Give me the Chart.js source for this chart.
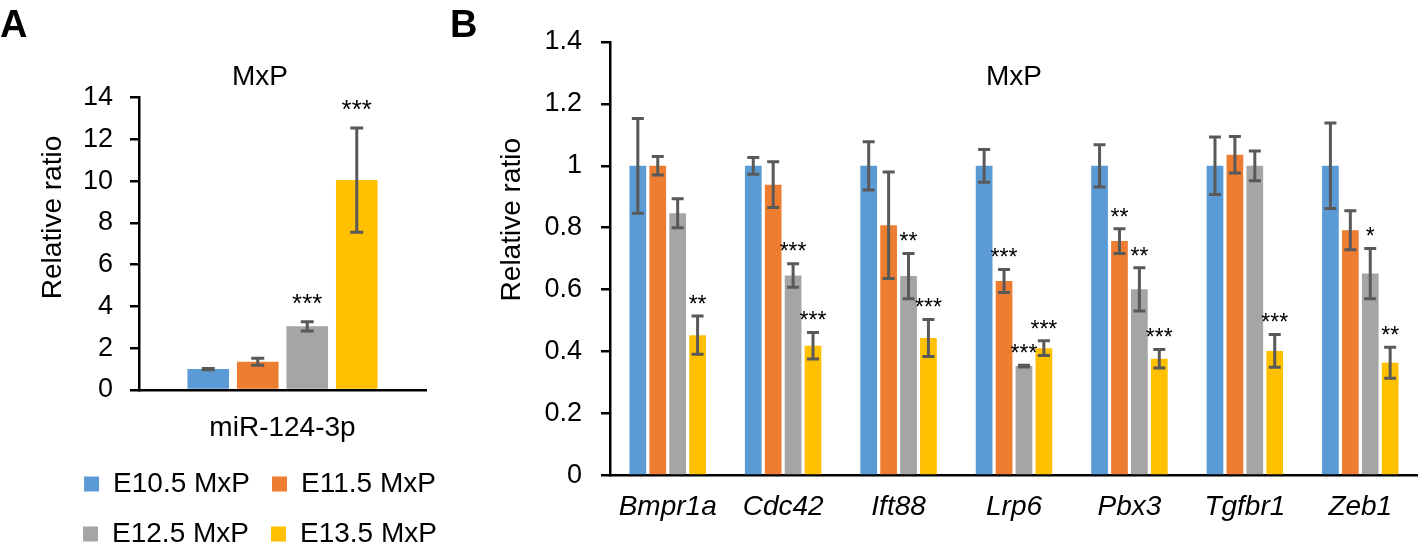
<!DOCTYPE html>
<html>
<head>
<meta charset="utf-8">
<script src="https://cdn.jsdelivr.net/npm/chart.js@4.4.1/dist/chart.umd.min.js"></script>
<style>
  html, body { margin: 0; padding: 0; background: #fff; overflow: hidden; }
  #page { position: relative; width: 1418px; height: 550px; overflow: hidden; }
  .panel-letter { position: absolute; top: 5px; font: bold 38px "Liberation Sans", Arial, sans-serif; line-height: 1; color: #000; }
  #wrapA { position: absolute; left: 0; top: 0; width: 520px; height: 558px; }
  #wrapB { position: absolute; left: 480px; top: 0; width: 938px; height: 550px; }
</style>
</head>
<body>
<div id="page">
  <div id="wrapA"><canvas id="chartA"></canvas></div>
  <div id="wrapB"><canvas id="chartB"></canvas></div>
  <div class="panel-letter" style="left:0px">A</div>
  <div class="panel-letter" style="left:450px">B</div>
</div>
<script>
// series
const seriesNames = ['E10.5 MxP', 'E11.5 MxP', 'E12.5 MxP', 'E13.5 MxP'];
const seriesColors = ['#5B9BD5', '#ED7D31', '#A5A5A5', '#FFC000'];

// panel A - miR-124-3p
const mirLabels = ['miR-124-3p'];
const mirE105 = [1.0];
const mirE115 = [1.35];
const mirE125 = [3.05];
const mirE135 = [10.05];
const mirErrE105 = [0.03];
const mirErrE115 = [0.17];
const mirErrE125 = [0.22];
const mirErrE135 = [2.5];
const mirStarsE105 = [''];
const mirStarsE115 = [''];
const mirStarsE125 = ['***'];
const mirStarsE135 = ['***'];
const mirTicks = ['0', '2', '4', '6', '8', '10', '12', '14'];

// panel B - target genes
const genes = ['Bmpr1a', 'Cdc42', 'Ift88', 'Lrp6', 'Pbx3', 'Tgfbr1', 'Zeb1'];
const geneE105 = [1, 1, 1, 1, 1, 1, 1];
const geneE115 = [1.0, 0.939, 0.808, 0.628, 0.757, 1.036, 0.792];
const geneE125 = [0.847, 0.646, 0.644, 0.353, 0.601, 1.0, 0.652];
const geneE135 = [0.453, 0.419, 0.444, 0.411, 0.377, 0.402, 0.364];
const geneErrE105 = [0.153, 0.027, 0.078, 0.053, 0.068, 0.093, 0.138];
const geneErrE115 = [0.03, 0.074, 0.172, 0.037, 0.04, 0.059, 0.063];
const geneErrE125 = [0.047, 0.038, 0.073, 0.003, 0.07, 0.048, 0.081];
const geneErrE135 = [0.062, 0.043, 0.06, 0.024, 0.03, 0.053, 0.05];
const geneStarsE105 = ['', '', '', '', '', '', ''];
const geneStarsE115 = ['', '', '', '***', '**', '', ''];
const geneStarsE125 = ['', '***', '**', '***', '**', '', '*'];
const geneStarsE135 = ['**', '***', '***', '***', '***', '***', '**'];
const geneTicks = ['0', '0.2', '0.4', '0.6', '0.8', '1', '1.2', '1.4'];

const FONT = '"Liberation Sans", Arial, sans-serif';
Chart.defaults.font.family = FONT;
Chart.defaults.color = '#000';

// error bars + significance stars, placed through the y scale
const errorBarPlugin = {
    id: 'errorBars',
    afterDatasetsDraw(chart, args, opts) {
        const ctx = chart.ctx;
        const yScale = chart.scales.y;
        ctx.save();
        chart.data.datasets.forEach((ds, i) => {
            const meta = chart.getDatasetMeta(i);
            meta.data.forEach((bar, j) => {
                const v = ds.data[j], e = ds.errors[j];
                const yTop = yScale.getPixelForValue(v + e);
                const yBot = yScale.getPixelForValue(v - e);
                ctx.strokeStyle = '#595959';
                ctx.lineWidth = 3;
                ctx.beginPath();
                ctx.moveTo(bar.x, yTop); ctx.lineTo(bar.x, yBot);
                ctx.moveTo(bar.x - opts.cap / 2, yTop); ctx.lineTo(bar.x + opts.cap / 2, yTop);
                ctx.moveTo(bar.x - opts.cap / 2, yBot); ctx.lineTo(bar.x + opts.cap / 2, yBot);
                ctx.stroke();
                const s = ds.stars[j];
                if (s) {
                    ctx.fillStyle = '#000';
                    ctx.font = `${opts.starSize}px ${FONT}`;
                    ctx.textAlign = 'center';
                    ctx.textBaseline = 'top';
                    ctx.fillText(s, bar.x, yTop - opts.starGap);
                }
            });
        });
        ctx.restore();
    }
};

// rotated y title and optional inner title
const labelsPlugin = {
    id: 'sideLabels',
    afterDraw(chart, args, opts) {
        const ctx = chart.ctx;
        const area = chart.chartArea;
        ctx.save();
        ctx.fillStyle = '#000';
        ctx.font = `28px ${FONT}`;
        ctx.textAlign = 'center';
        ctx.textBaseline = 'middle';
        ctx.translate(area.left - opts.yOffset, area.top + (area.bottom - area.top) * 0.41);
        ctx.rotate(-Math.PI / 2);
        ctx.fillText('Relative ratio', 0, 0);
        ctx.restore();
        if (opts.inner) {
            ctx.save();
            ctx.fillStyle = '#000';
            ctx.font = `28px ${FONT}`;
            ctx.textAlign = 'center';
            ctx.textBaseline = 'middle';
            ctx.fillText(opts.inner, (area.left + area.right) / 2, area.top + 35);
            ctx.restore();
        }
    }
};

function makeDatasets(values, errs, stars) {
    return seriesNames.map((name, i) => ({
        label: name,
        data: values[i],
        errors: errs[i],
        stars: stars[i],
        backgroundColor: seriesColors[i],
        borderWidth: 0,
        categoryPercentage: 0.69,
        barPercentage: 0.84
    }));
}

function yAxis(max, step, tickLabels, pad, width) {
    return {
        min: 0, max: max,
        afterFit: s => { s.width = width; },
        ticks: { stepSize: step, padding: pad, autoSkip: false, font: { size: 27 }, color: '#000',
                 callback: (v, idx) => tickLabels[idx] },
        grid: { display: true, drawOnChartArea: false, drawTicks: true, tickLength: 9, color: '#000', lineWidth: 2.5 },
        border: { display: true, color: '#000', width: 2.5 }
    };
}

new Chart(document.getElementById('chartA'), {
    type: 'bar',
    data: {
        labels: mirLabels,
        datasets: makeDatasets([mirE105, mirE115, mirE125, mirE135],
                               [mirErrE105, mirErrE115, mirErrE125, mirErrE135],
                               [mirStarsE105, mirStarsE115, mirStarsE125, mirStarsE135])
    },
    options: {
        responsive: true,
        maintainAspectRatio: false,
        animation: false,
        layout: { padding: 0 },
        plugins: {
            title: { display: true, text: 'MxP', font: { size: 28, weight: 'normal' }, color: '#000', padding: { top: 60, bottom: 4 } },
            legend: { position: 'bottom', labels: { boxWidth: 15, boxHeight: 15, padding: 22, font: { size: 28 }, color: '#000' } },
            tooltip: { enabled: false },
            errorBars: { cap: 13, starSize: 26, starGap: 30 },
            sideLabels: { yOffset: 86 }
        },
        scales: {
            x: {
                afterFit: s => { s.height = 58; },
                ticks: { padding: 21, font: { size: 28 }, color: '#000' },
                grid: { display: false, drawTicks: false },
                border: { display: true, color: '#000', width: 2.5 }
            },
            y: yAxis(14, 2, mirTicks, 17, 139),
            // empty spacer on the right so the legend keeps the full width
            yRight: {
                position: 'right', display: true,
                afterFit: s => { s.width = 94; },
                ticks: { display: false }, grid: { display: false }, border: { display: false }
            }
        }
    },
    plugins: [errorBarPlugin, labelsPlugin]
});

new Chart(document.getElementById('chartB'), {
    type: 'bar',
    data: {
        labels: genes,
        datasets: makeDatasets([geneE105, geneE115, geneE125, geneE135],
                               [geneErrE105, geneErrE115, geneErrE125, geneErrE135],
                               [geneStarsE105, geneStarsE115, geneStarsE125, geneStarsE135])
    },
    options: {
        responsive: true,
        maintainAspectRatio: false,
        animation: false,
        layout: { padding: { left: 0, right: 0, top: 42, bottom: 11 } },
        plugins: {
            legend: { display: false },
            title: { display: false },
            tooltip: { enabled: false },
            errorBars: { cap: 12, starSize: 23, starGap: 22 },
            sideLabels: { yOffset: 98, inner: 'MxP' }
        },
        scales: {
            x: {
                ticks: { padding: 15, font: { size: 28, style: 'italic' }, color: '#000' },
                grid: { display: false, drawTicks: false },
                border: { display: true, color: '#000', width: 2.5 }
            },
            y: yAxis(1.4, 0.2, geneTicks, 19, 130)
        }
    },
    plugins: [errorBarPlugin, labelsPlugin]
});
</script>
</body>
</html>
